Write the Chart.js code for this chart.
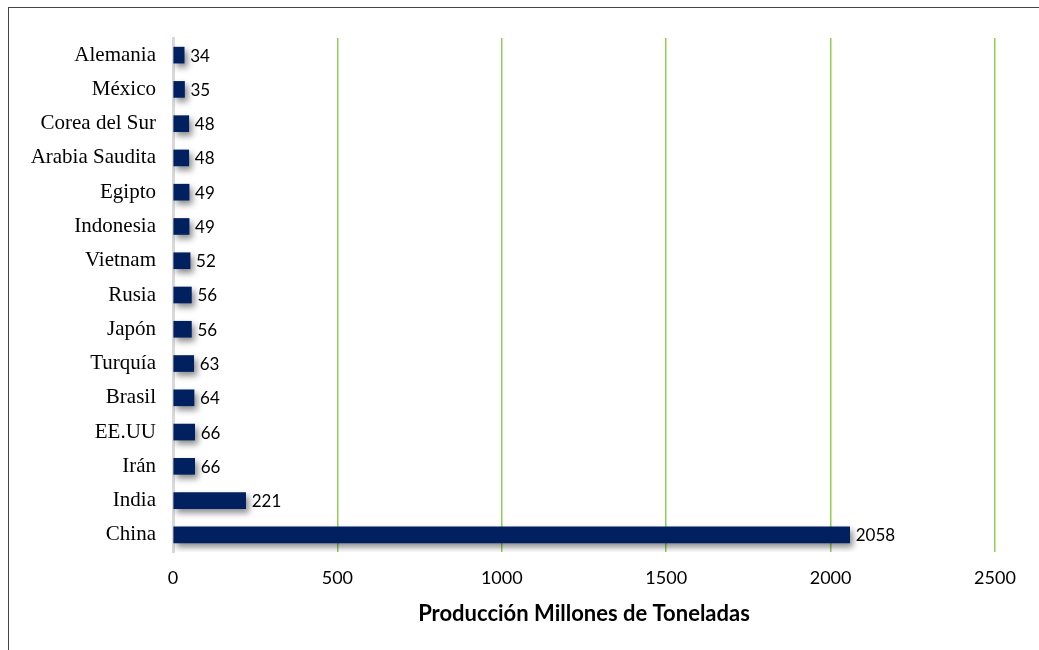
<!DOCTYPE html>
<html>
<head>
<meta charset="utf-8">
<script src="https://cdn.jsdelivr.net/npm/chart.js@4/dist/chart.umd.min.js"></script>
<style>
  body { margin: 0; background: #fff; overflow: hidden; }
  #frame { position: absolute; left: 8px; top: 7px; width: 1100px; height: 700px; border-top: 1px solid #444; border-left: 1px solid #444; }
  #wrap { position: absolute; left: 0; top: 0; width: 1039px; height: 650px; }
</style>
</head>
<body>
<div id="frame"></div>
<div id="wrap"><canvas id="chart"></canvas></div>
<script>
const countries = ["Alemania", "México", "Corea del Sur", "Arabia Saudita", "Egipto", "Indonesia", "Vietnam",
    "Rusia", "Japón", "Turquía", "Brasil", "EE.UU", "Irán", "India", "China"];
const production = [34, 35, 48, 48, 49, 49, 52, 56, 56, 63, 64, 66, 66, 221, 2058];
const xTicks = [0, 500, 1000, 1500, 2000, 2500];

const shadowPlugin = {
    id: "barShadow",
    beforeDatasetsDraw(chart) {
        const ctx = chart.ctx;
        ctx.save();
        ctx.shadowColor = "rgba(0,0,0,0.45)";
        ctx.shadowBlur = 6;
        ctx.shadowOffsetX = 3;
        ctx.shadowOffsetY = 4;
    },
    afterDatasetsDraw(chart) {
        chart.ctx.restore();
    }
};

const valueLabels = {
    id: "valueLabels",
    afterDraw(chart) {
        const ctx = chart.ctx;
        const meta = chart.getDatasetMeta(0);
        ctx.save();
        ctx.font = "17px Lato, 'Open Sans', sans-serif";
        ctx.fillStyle = "#000";
        ctx.textBaseline = "middle";
        ctx.textAlign = "left";
        meta.data.forEach((bar, i) => {
            ctx.fillText(String(production[i]), bar.x + 6, bar.y + 1);
        });
        ctx.restore();
    }
};

new Chart(document.getElementById("chart"), {
    type: "bar",
    data: {
        labels: countries,
        datasets: [{
            data: production,
            backgroundColor: "#002060",
            borderWidth: 0,
            barThickness: 16
        }]
    },
    options: {
        indexAxis: "y",
        responsive: true,
        maintainAspectRatio: false,
        animation: false,
        layout: { padding: { top: 38, right: 44, bottom: 23, left: 0 } },
        plugins: {
            legend: { display: false },
            tooltip: { enabled: false }
        },
        scales: {
            x: {
                min: 0,
                max: 2500,
                afterBuildTicks: (scale) => { scale.ticks = xTicks.map(v => ({ value: v })); },
                grid: { color: "#92d050", lineWidth: 1.5, drawTicks: false },
                border: { display: false },
                ticks: {
                    color: "#000",
                    font: { family: "Lato, 'Open Sans', sans-serif", size: 18 },
                    padding: 15,
                    callback: (v) => String(v)
                },
                title: {
                    display: true,
                    text: "Producción Millones de Toneladas",
                    color: "#000",
                    font: { family: "Lato, 'Open Sans', sans-serif", size: 22, weight: "bold" },
                    padding: { top: 0, bottom: 0 }
                },
                afterFit: (scale) => { scale.height = 75; }
            },
            y: {
                grid: { display: false, drawTicks: false },
                border: { display: true, color: "#d9d9d9", width: 3 },
                ticks: { color: "#000", font: { family: "'Liberation Serif', 'Times New Roman', serif", size: 21 }, padding: 17 },
                afterFit: (scale) => { scale.width = 173; }
            }
        }
    },
    plugins: [shadowPlugin, valueLabels]
});
</script>
</body>
</html>
